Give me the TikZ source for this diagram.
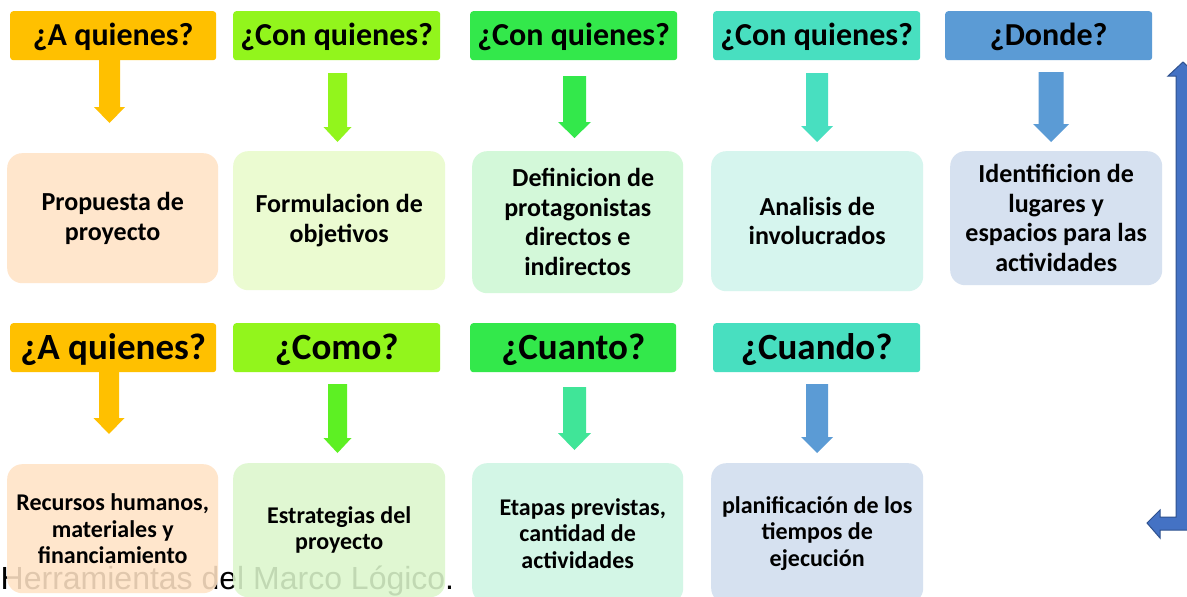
\documentclass[tikz,border=0pt]{standalone}
\usepackage{fontspec}
\setmainfont{Carlito}
\newfontfamily\capfont{Liberation Sans}
\definecolor{cOr}{HTML}{FFC000}
\definecolor{cLime}{HTML}{92F51C}
\definecolor{cLimeB}{HTML}{5DF023}
\definecolor{cGr}{HTML}{33E84B}
\definecolor{cGrB}{HTML}{40E598}
\definecolor{cTq}{HTML}{48DFC0}
\definecolor{cBl}{HTML}{5B9BD5}
\definecolor{cBig}{HTML}{4472C4}
\definecolor{cBigD}{HTML}{2F528F}
\definecolor{bOr}{HTML}{FFE6CC}
\definecolor{bLime}{HTML}{EBFBD1}
\definecolor{bGr}{HTML}{D3F8D9}
\definecolor{bTq}{HTML}{D6F5EE}
\definecolor{bBl}{HTML}{D6E1F0}
\definecolor{bOrT}{RGB}{255,227,197}
\definecolor{bLimeT}{RGB}{220,247,204}
\definecolor{bGrB}{HTML}{D3F6E6}
\newcommand{\darrow}[7]{%
  \fill[#7] (#1-#5,#2) -- (#1+#5,#2) -- (#1+#5,#3) -- (#1+#6,#3) -- (#1,#4)
    -- (#1-#6,#3) -- (#1-#5,#3) -- cycle;}
\begin{document}
\begin{tikzpicture}[x=1pt,y=-1pt,
  hdrA/.style={rounded corners=3pt, inner sep=0pt, anchor=north west,
    text height=34pt, text depth=15pt, text=black,
    font=\bfseries\fontsize{32}{38}\selectfont},
  hdrB/.style={hdrA, text height=36pt, text depth=13pt,
    font=\bfseries\fontsize{37}{42}\selectfont},
  boxA/.style={rounded corners=15pt, inner sep=0pt, anchor=north west,
    align=center, text=black, font=\bfseries\fontsize{26}{29.5}\selectfont},
  boxB/.style={boxA, font=\bfseries\fontsize{24}{26.5}\selectfont},
]
\useasboundingbox (0,0) rectangle (1187,597);
\clip (0,0) rectangle (1187,597);
\fill[white] (0,0) rectangle (1187,597);

% caption behind the boxes
\node[anchor=base west, inner sep=0pt, font=\capfont\fontsize{32}{38}\selectfont]
  (cap) at (0.5,589) {Herramientas del Marco Lógico.};

% row 1 headers
\node[hdrA, fill=cOr,   minimum width=206pt] (h1) at (10,11)  {¿A quienes?};
\node[hdrA, fill=cLime, minimum width=207pt] (h2) at (233,11) {¿Con quienes?};
\node[hdrA, fill=cGr,   minimum width=207pt] (h3) at (470,11) {¿Con quienes?};
\node[hdrA, fill=cTq,   minimum width=207pt] (h4) at (713,11) {¿Con quienes?};
\node[hdrA, fill=cBl,   minimum width=207pt] (h5) at (945,11) {¿Donde?};

% row 1 arrows
\darrow{109.5}{58}{107}{123}{10.5}{15.5}{cOr}
\darrow{337.5}{73}{127}{142}{9.5}{14}{cLime}
\darrow{574.5}{76}{122}{138}{11.5}{16.5}{cGr}
\darrow{817}{73}{126}{142}{11}{16}{cTq}
\darrow{1051}{72}{124}{142}{12.5}{18}{cBl}

% row 1 boxes
\node[boxA, fill=bOr,   minimum width=211pt, minimum height=130pt] (b1) at (7,153)
  {Propuesta de\\proyecto};
\node[boxA, fill=bLime, minimum width=212pt, minimum height=139pt] (b2) at (233,151)
  {Formulacion de\\objetivos};
\node[boxA, fill=bGr,   minimum width=211pt, minimum height=142pt] (b3) at (472,151)
  {\hspace*{11pt}Definicion de\\protagonistas\\directos e\\indirectos};
\node[boxA, fill=bTq,   minimum width=212pt, minimum height=140pt] (b4) at (711,151)
  {Analisis de\\involucrados};
\node[boxA, fill=bBl,   minimum width=212pt, minimum height=134pt] (b5) at (950,151)
  {Identificion de\\lugares y\\espacios para las\\actividades};

% row 2 headers
\node[hdrB, fill=cOr,   minimum width=206pt] (h6) at (10,323)  {¿A quienes?};
\node[hdrB, fill=cLime, minimum width=207pt] (h7) at (233,323) {¿Como?};
\node[hdrB, fill=cGr,   minimum width=206pt] (h8) at (470,323) {¿Cuanto?};
\node[hdrB, fill=cTq,   minimum width=207pt] (h9) at (713,323) {¿Cuando?};

% row 2 arrows
\darrow{109}{370}{418}{434}{10}{15.5}{cOr}
\darrow{337.5}{384}{438}{453}{9.5}{14}{cLimeB}
\darrow{574.5}{387}{433}{450}{11.5}{16.5}{cGrB}
\darrow{817}{384}{437}{453}{11}{16}{cBl}

% row 2 boxes
\node[boxB, fill=bOrT, fill opacity=0.88, text opacity=1,
  minimum width=211pt, minimum height=129pt] (b6) at (7,464)
  {Recursos humanos,\\materiales y\\financiamiento};
\node[boxB, fill=bLimeT, fill opacity=0.88, text opacity=1,
  minimum width=212pt, minimum height=134pt] (b7) at (233,463)
  {Estrategias del\\proyecto};
\node[boxB, fill=bGrB, minimum width=211pt, minimum height=140pt] (b8) at (472,463)
  {\hspace*{10pt}Etapas previstas,\\cantidad de\\actividades};
\node[boxB, fill=bBl, minimum width=212pt, minimum height=140pt] (b9) at (711,463)
  {planificación de los\\tiempos de\\ejecución};

% big bent arrow on the right
\filldraw[fill=cBig, draw=cBigD, line width=1pt]
  (1183,62) -- (1198,76) -- (1190,76) -- (1190,530) -- (1160,530) -- (1160,538)
  -- (1147,523) -- (1160,510) -- (1160,517) -- (1176,517) -- (1176,76)
  -- (1168,76) -- cycle;
\end{tikzpicture}
\end{document}
